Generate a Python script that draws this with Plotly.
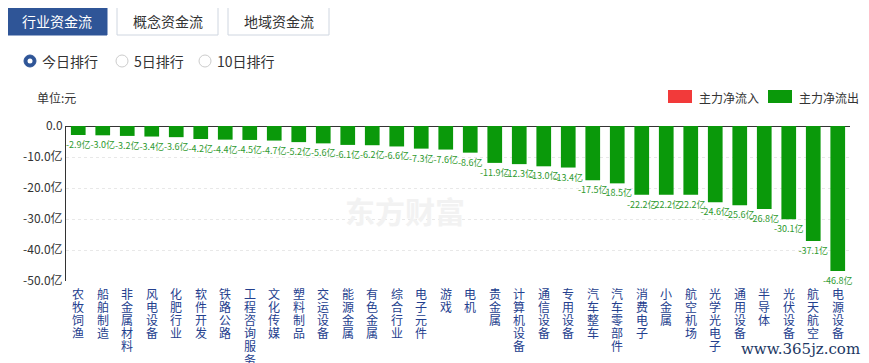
import plotly.graph_objects as go

categories = ["农牧饲渔", "船舶制造", "非金属材料", "风电设备", "化肥行业", "软件开发", "铁路公路",
              "工程咨询服务", "文化传媒", "塑料制品", "交运设备", "能源金属", "有色金属", "综合行业",
              "电子元件", "游戏", "电机", "贵金属", "计算机设备", "通信设备", "专用设备", "汽车整车",
              "汽车零部件", "消费电子", "小金属", "航空机场", "光学光电子", "通用设备", "半导体",
              "光伏设备", "航天航空", "电源设备"]
values = [-2.9, -3.0, -3.2, -3.4, -3.6, -4.2, -4.4, -4.5, -4.7, -5.2, -5.6, -6.1, -6.2, -6.6,
          -7.3, -7.6, -8.6, -11.9, -12.3, -13.0, -13.4, -17.5, -18.5, -22.2, -22.2, -22.2,
          -24.6, -25.6, -26.8, -30.1, -37.1, -46.8]
y_ticks = [0, -10, -20, -30, -40, -50]
y_tick_labels = ["0.0", "-10.0亿", "-20.0亿", "-30.0亿", "-40.0亿", "-50.0亿"]

W, H = 869, 363
OFF = 8  # page body margin
PX0, PX1, PY0, PY1 = 66, 850, 126, 281  # plot area in screen pixels
L, T = PX0 - OFF, PY0 - OFF
PW, PH = PX1 - PX0, PY1 - PY0
R, B = W - L - PW, H - T - PH

def fx(px):
    return (px - PX0) / PW

def fy(py):
    return (PY1 - py) / PH

FONT = "Noto Sans CJK SC"
GREEN = "#0a990a"

fig = go.Figure()
fig.add_trace(go.Bar(
    x=categories, y=values,
    marker=dict(color=GREEN, line=dict(width=0)),
    width=0.6,
    text=[f"{v:.1f}亿" for v in values],
    textposition="outside",
    constraintext="none",
    textfont=dict(size=9, color="#2e9a2e", family=FONT),
    cliponaxis=False,
    hoverinfo="skip",
))

shapes = []
annotations = []

# Buttons
buttons = [("行业资金流", 6, 107, True), ("概念资金流", 117, 218, False), ("地域资金流", 228, 329, False)]
for label, x0, x1, active in buttons:
    shapes.append(dict(type="rect", xref="paper", yref="paper",
                       x0=fx(x0), x1=fx(x1), y0=fy(35), y1=fy(7),
                       fillcolor="#2f5597" if active else "#ffffff",
                       line=dict(color="#2f5597" if active else "#cfd6e0", width=1)))
    annotations.append(dict(text=label, xref="paper", yref="paper",
                            x=fx((x0 + x1) / 2), y=fy(21), showarrow=False,
                            xanchor="center", yanchor="middle",
                            font=dict(size=14, color="#ffffff" if active else "#333333", family=FONT)))

# Radio buttons
radios = [("今日排行", 30, True), ("5日排行", 122, False), ("10日排行", 205, False)]
for label, cx, active in radios:
    r = 6
    shapes.append(dict(type="circle", xref="paper", yref="paper",
                       x0=fx(cx - r), x1=fx(cx + r), y0=fy(61 + r), y1=fy(61 - r),
                       fillcolor="#2f5597" if active else "#ffffff",
                       line=dict(color="#2f5597" if active else "#cccccc", width=1)))
    if active:
        r2 = 2.5
        shapes.append(dict(type="circle", xref="paper", yref="paper",
                           x0=fx(cx - r2), x1=fx(cx + r2), y0=fy(61 + r2), y1=fy(61 - r2),
                           fillcolor="#ffffff", line=dict(width=0)))
    annotations.append(dict(text=label, xref="paper", yref="paper",
                            x=fx(cx + 10), y=fy(61), showarrow=False,
                            xanchor="left", yanchor="middle",
                            font=dict(size=14, color="#333333", family=FONT)))

# Unit label
annotations.append(dict(text="单位:元", xref="paper", yref="paper", x=fx(35), y=fy(97),
                        showarrow=False, xanchor="left", yanchor="middle",
                        font=dict(size=12, color="#333333", family=FONT)))

# Legend
legend_items = [("主力净流入", 668, "#f23a3a"), ("主力净流出", 768, GREEN)]
for label, x0, color in legend_items:
    shapes.append(dict(type="rect", xref="paper", yref="paper",
                       x0=fx(x0), x1=fx(x0 + 24), y0=fy(103), y1=fy(90),
                       fillcolor=color, line=dict(width=0)))
    annotations.append(dict(text=label, xref="paper", yref="paper", x=fx(x0 + 29), y=fy(97),
                            showarrow=False, xanchor="left", yanchor="middle",
                            font=dict(size=12, color="#333333", family=FONT)))

# Category labels: vertical, one character per line
CHAR_STEP = 13.2
for cat in categories:
    for i, ch in enumerate(cat):
        annotations.append(dict(text=ch, xref="x", yref="paper", x=cat, y=fy(293 + i * CHAR_STEP),
                                showarrow=False, xanchor="center", yanchor="middle",
                                font=dict(size=12, color="#24408e", family=FONT)))

# Watermark
annotations.append(dict(text="<b>东方财富</b>", xref="paper", yref="paper", x=fx(405), y=fy(210),
                        showarrow=False, xanchor="center", yanchor="middle",
                        font=dict(size=30, color="#f2f2f2", family=FONT)))
annotations.append(dict(text="www.365jz.com", xref="paper", yref="paper", x=fx(862), y=fy(349),
                        showarrow=False, xanchor="right", yanchor="middle",
                        font=dict(size=15, color="#1d3763", family="DejaVu Serif")))

fig.update_layout(
    width=W, height=H,
    margin=dict(l=L, r=R, t=T, b=B, autoexpand=False),
    paper_bgcolor="#ffffff", plot_bgcolor="#ffffff",
    showlegend=False,
    bargap=0.4,
    shapes=shapes,
    annotations=annotations,
    font=dict(family=FONT),
)
fig.update_xaxes(
    type="category",
    automargin=False,
    showticklabels=False,
    showline=False, showgrid=False, ticks="",
    range=[-0.5, len(categories) - 0.5],
)
fig.update_yaxes(
    automargin=False,
    range=[-50, 0],
    tickmode="array", tickvals=y_ticks, ticktext=y_tick_labels,
    tickfont=dict(size=12, color="#333333", family=FONT),
    showgrid=True, gridcolor="#e8e8e8", griddash="dot", gridwidth=1,
    showline=True, linecolor="#333333", linewidth=1,
    zeroline=True, zerolinecolor="#333333", zerolinewidth=1,
    ticks="", ticklen=0,
)

fig.write_html("out.html")
